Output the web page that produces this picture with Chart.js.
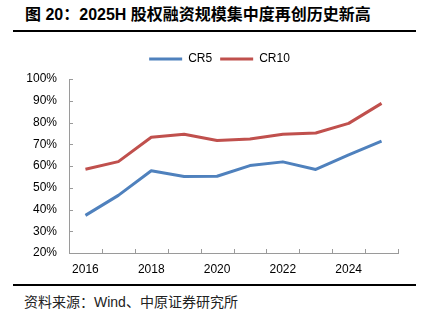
<!DOCTYPE html>
<html>
<head>
<meta charset="utf-8">
<script src="https://cdn.jsdelivr.net/npm/chart.js@4/dist/chart.umd.min.js"></script>
<style>
  html, body { margin: 0; padding: 0; background: #fff; }
  body { width: 430px; height: 324px; position: relative; overflow: hidden; }
  #title { position: absolute; left: 25px; top: 6px; font-family: "Liberation Sans", "Noto Sans CJK SC", sans-serif; font-weight: bold; font-size: 16px; line-height: 18px; color: #000; white-space: nowrap; }
  #topline { position: absolute; left: 13px; width: 403px; top: 30px; height: 2px; background: #000; }
  #botline { position: absolute; left: 13px; width: 403px; top: 284px; height: 2px; background: #000; }
  #source { position: absolute; left: 24px; top: 294px; font-family: "Liberation Sans", "Noto Sans CJK SC", sans-serif; font-size: 14px; line-height: 16px; color: #222; white-space: nowrap; }
  #wrap { position: absolute; left: 0; top: 40px; width: 430px; height: 244px; }
</style>
</head>
<body>
<div id="title">图 20：2025H 股权融资规模集中度再创历史新高</div>
<div id="topline"></div>
<div id="wrap"><canvas id="c"></canvas></div>
<div id="botline"></div>
<div id="source">资料来源：Wind、中原证券研究所</div>
<script>
// Data
const years = ['2016', '2017', '2018', '2019', '2020', '2021', '2022', '2023', '2024', '2025'];
const shownYears = ['2016', '2018', '2020', '2022', '2024'];
const cr5 = [37.3, 46.5, 57.8, 55.2, 55.3, 60.2, 61.9, 58.4, 65.1, 71.4];
const cr10 = [58.5, 62.0, 73.2, 74.6, 71.7, 72.4, 74.6, 75.2, 79.6, 88.8];
const seriesNames = ['CR5', 'CR10'];

const AXIS = '#9a9a9a';

const legendTweak = {
  id: 'legendTweak',
  beforeLayout(chart) {
    const lg = chart.legend;
    if (lg && !lg.__tweaked) {
      lg.__tweaked = true;
      const fit = lg.fit.bind(lg);
      lg.fit = function () { fit(); this.height += 4; };
      const draw = lg.draw.bind(lg);
      lg.draw = function () {
        const c = this.ctx; c.save(); c.translate(-14, 0); draw(); c.restore();
      };
    }
  }
};

const innerTicks = {
  id: 'innerTicks',
  afterDraw(chart) {
    const ctx = chart.ctx, ca = chart.chartArea;
    const xs = chart.scales.x, ys = chart.scales.y;
    ctx.save();
    ctx.strokeStyle = AXIS;
    ctx.lineWidth = 1;
    ctx.beginPath();
    ys.ticks.forEach((t, i) => {
      const py = Math.round(ys.getPixelForTick(i)) + 0.5;
      ctx.moveTo(ca.left, py); ctx.lineTo(ca.left + 4, py);
    });
    for (let i = 0; i <= years.length; i++) {
      const px = Math.round(xs.getPixelForValue(i - 0.5)) + 0.5;
      ctx.moveTo(px, ca.bottom); ctx.lineTo(px, ca.bottom - 4);
    }
    ctx.stroke();
    ctx.restore();
  }
};

new Chart(document.getElementById('c'), {
  type: 'line',
  data: {
    labels: years,
    datasets: [
      { label: seriesNames[0], data: cr5, borderColor: '#4f81bd', backgroundColor: '#4f81bd', borderWidth: 3, pointRadius: 0, tension: 0, borderJoinStyle: 'round' },
      { label: seriesNames[1], data: cr10, borderColor: '#c0504d', backgroundColor: '#c0504d', borderWidth: 3, pointRadius: 0, tension: 0, borderJoinStyle: 'round' }
    ]
  },
  options: {
    responsive: true,
    maintainAspectRatio: false,
    animation: false,
    layout: { padding: { left: 0, right: 32, top: 5, bottom: 0 } },
    plugins: {
      legend: {
        display: true,
        position: 'top',
        fullSize: false,
        labels: {
          usePointStyle: true,
          pointStyle: 'line',
          pointStyleWidth: 33,
          padding: 8,
          color: '#000',
          font: { family: '"Liberation Sans", Arial, sans-serif', size: 12 }
        }
      },
      tooltip: { enabled: false }
    },
    scales: {
      x: {
        type: 'category',
        offset: true,
        grid: { display: true, drawOnChartArea: false, drawTicks: false, offset: true },
        border: { display: true, color: AXIS, width: 1 },
        ticks: {
          autoSkip: false,
          maxRotation: 0,
          padding: 9,
          color: '#000',
          font: { family: '"Liberation Sans", Arial, sans-serif', size: 12 },
          callback: function (v, i) { const l = this.getLabelForValue(v); return shownYears.includes(l) ? l : ''; }
        },
        afterFit: (s) => { s.height = 31; }
      },
      y: {
        min: 20, max: 100,
        grid: { display: true, drawOnChartArea: false, drawTicks: false },
        border: { display: true, color: AXIS, width: 1 },
        ticks: {
          stepSize: 10,
          padding: 12,
          color: '#000',
          font: { family: '"Liberation Sans", Arial, sans-serif', size: 12 },
          callback: (v) => Math.round(v) + '%'
        },
        afterFit: (s) => { s.width = 69; }
      }
    }
  },
  plugins: [legendTweak, innerTicks]
});
</script>
</body>
</html>
